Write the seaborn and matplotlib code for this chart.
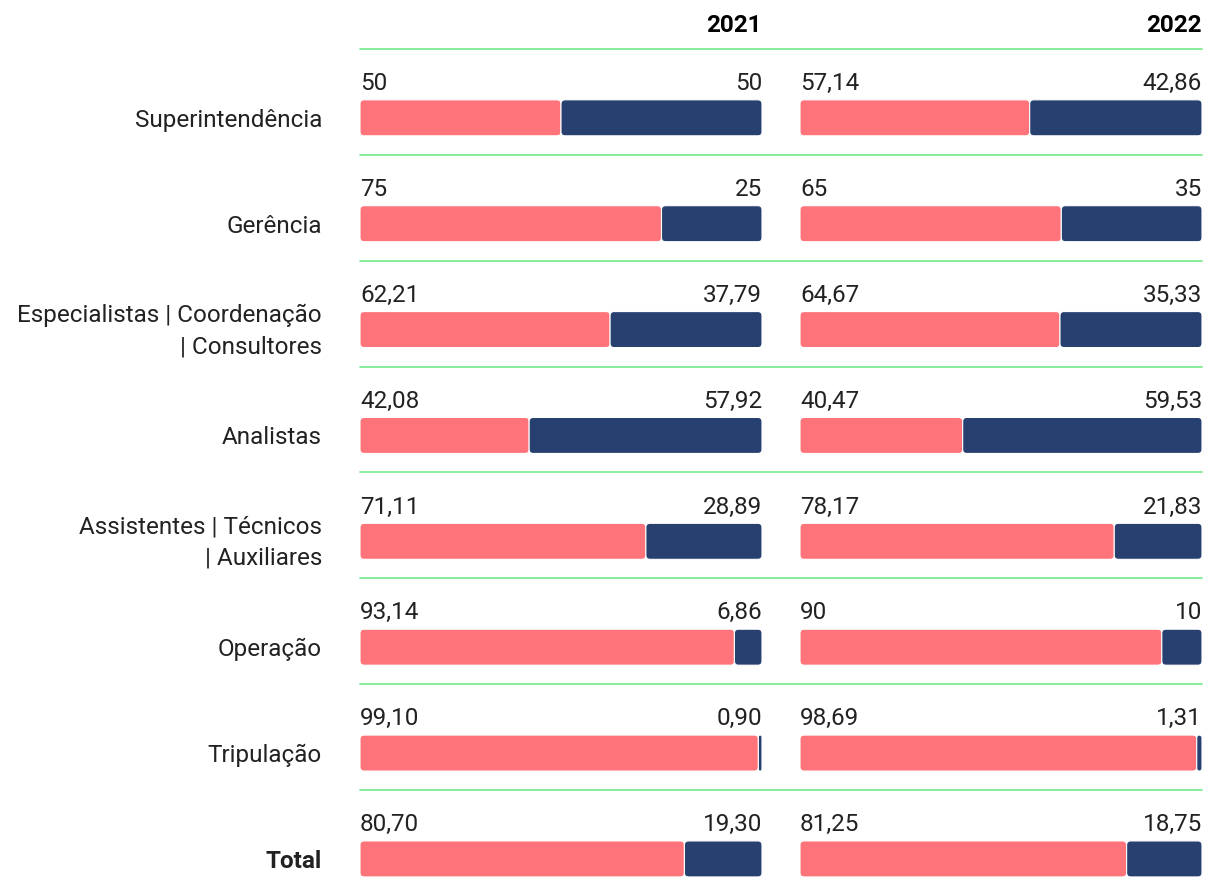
import matplotlib
matplotlib.use("Agg")
import matplotlib.pyplot as plt
import seaborn as sns
from matplotlib.patches import FancyBboxPatch
from matplotlib.transforms import blended_transform_factory

# Share of women / men per job level (%)
categories = [
    "Superintendência",
    "Gerência",
    "Especialistas | Coordenação\n| Consultores",
    "Analistas",
    "Assistentes | Técnicos\n| Auxiliares",
    "Operação",
    "Tripulação",
    "Total",
]
years = ["2021", "2022"]
pink_2021 = [50, 75, 62.21, 42.08, 71.11, 93.14, 99.10, 80.70]
navy_2021 = [50, 25, 37.79, 57.92, 28.89, 6.86, 0.90, 19.30]
pink_2022 = [57.14, 65, 64.67, 40.47, 78.17, 90, 98.69, 81.25]
navy_2022 = [42.86, 35, 35.33, 59.53, 21.83, 10, 1.31, 18.75]

PINK = "#FF747A"
NAVY = "#27406F"
GREEN = "#7EEB93"
TEXT = "#222222"
FS = 17.5
WEIGHT = "normal"

sns.set_theme(style="white")
plt.rcParams["font.family"] = ["Roboto", "DejaVu Sans"]

W, H = 1208, 896
fig = plt.figure(figsize=(W / 100, H / 100), dpi=100)


def fmt(v):
    s = f"{v:.2f}".replace(".", ",")
    return s[:-3] if s.endswith(",00") else s


ROW_TOP = 0.65   # separator line sits this far above bar centre
BAR_H = 0.34
n = len(categories)
top_px = 49
ax_h = H - top_px

panels = [(360, pink_2021, navy_2021, years[0]), (800, pink_2022, navy_2022, years[1])]
for k, (x0, pink, navy, year) in enumerate(panels):
    ax = fig.add_axes([x0 / W, 0, 402 / W, ax_h / H])
    ax.patch.set_visible(False)
    sns.barplot(x=pink, y=categories, color=PINK, width=BAR_H, saturation=1,
                errorbar=None, orient="h", ax=ax)
    sns.barplot(x=navy, y=categories, color=NAVY, width=BAR_H, saturation=1,
                errorbar=None, orient="h", ax=ax)

    # rounded, stacked segments
    bars = list(ax.patches)
    for j, p in enumerate(bars):
        left = 0 if j < n else pink[j - n]
        w, h, y = p.get_width(), p.get_height(), p.get_y()
        fc = p.get_facecolor()
        p.remove()
        r = min(1.0, w / 2)
        ax.add_patch(FancyBboxPatch((left, y), w, h,
                                    boxstyle=f"round,pad=0,rounding_size={r}",
                                    mutation_aspect=(402 / 100) / (ax_h / n),
                                    fc=fc, ec="white", lw=0.8))

    for i, (a, b) in enumerate(zip(pink, navy)):
        ax.text(0, i - 0.263, fmt(a), ha="left", va="baseline", fontsize=FS,
                fontweight=WEIGHT, color=TEXT)
        ax.text(100, i - 0.263, fmt(b), ha="right", va="baseline", fontsize=FS,
                fontweight=WEIGHT, color=TEXT)

    ax.text(1, 1 + 17 / ax_h, year, transform=ax.transAxes, ha="right", va="baseline",
            fontsize=FS, fontweight="bold", color="black")

    if k == 0:
        trans = blended_transform_factory(ax.transAxes, ax.transData)
        for i in range(n):
            ax.plot([0, (1202 - 360) / 402], [i - ROW_TOP] * 2, color=GREEN, lw=1.3,
                    transform=trans, clip_on=False)
        for i, cat in enumerate(categories):
            ax.text(-38 / 402, i - 0.047 * cat.count("\n"), cat, transform=trans,
                    ha="right", va="center_baseline", ma="right", fontsize=FS,
                    color=TEXT, linespacing=1.45,
                    fontweight="bold" if cat == "Total" else WEIGHT)
    ax.set_yticks([])

    ax.set_xlim(0, 100)
    ax.set_ylim(n - ROW_TOP, -ROW_TOP)
    ax.set_xticks([])
    ax.set_xlabel("")
    ax.set_ylabel("")
    sns.despine(ax=ax, left=True, bottom=True)

fig.savefig("out.png", dpi=100)
